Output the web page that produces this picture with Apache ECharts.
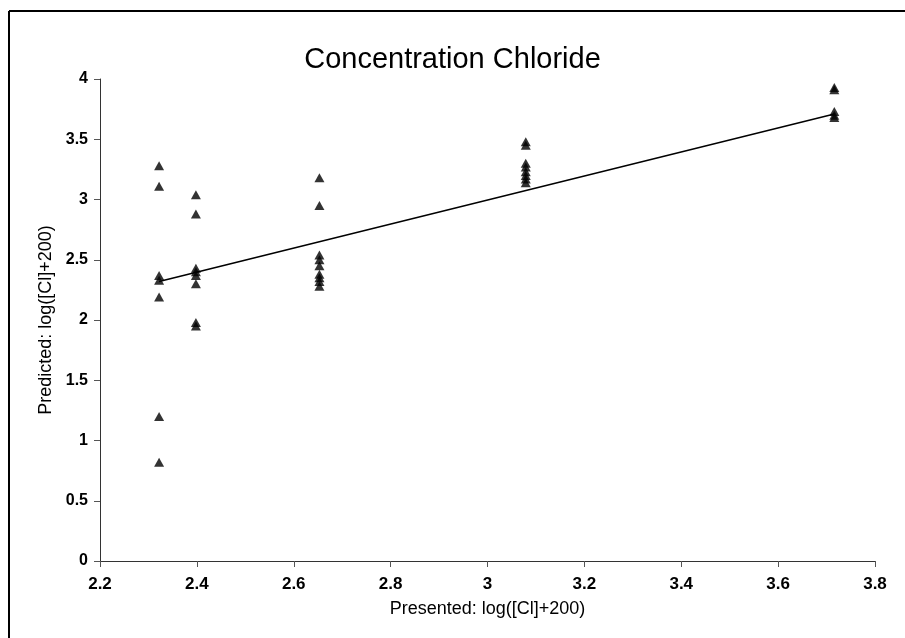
<!DOCTYPE html>
<html>
<head>
<meta charset="utf-8">
<script src="https://cdn.jsdelivr.net/npm/echarts@6/dist/echarts.min.js"></script>
<style>
html,body{margin:0;padding:0;background:#fff;}
#chart{width:905px;height:638px;}
</style>
</head>
<body>
<div id="chart"></div>
<script>
// Presented concentration levels (x) and predicted values (y) per group
var xLevels = [2.322, 2.398, 2.653, 3.079, 3.716];
var yGroup1 = [3.28, 3.11, 2.37, 2.33, 2.19, 1.20, 0.82];
var yGroup2 = [3.04, 2.88, 2.43, 2.40, 2.37, 2.30, 1.98, 1.95];
var yGroup3 = [3.18, 2.95, 2.54, 2.50, 2.45, 2.38, 2.35, 2.32, 2.28];
var yGroup4 = [3.48, 3.45, 3.30, 3.27, 3.23, 3.20, 3.17, 3.14];
var yGroup5 = [3.93, 3.91, 3.73, 3.70, 3.68];
// Fitted line end points
var fitX = [2.322, 3.716];
var fitY = [2.32, 3.71];
var xTicks = {min: 2.2, max: 3.8, interval: 0.2};
var yTicks = {min: 0, max: 4, interval: 0.5};

var groups = [yGroup1, yGroup2, yGroup3, yGroup4, yGroup5];
var points = [];
groups.forEach(function (g, i) {
  g.forEach(function (v) { points.push([xLevels[i], v]); });
});
var fitLine = fitX.map(function (x, i) { return [x, fitY[i]]; });

var chart = echarts.init(document.getElementById('chart'));
var FONT = '"Liberation Sans", Arial, Helvetica, sans-serif';
chart.setOption({
  backgroundColor: '#fff',
  animation: false,
  title: {
    text: 'Concentration Chloride',
    left: 'center',
    top: 40,
    textStyle: {fontFamily: FONT, fontSize: 29, fontWeight: 'normal', color: '#000'}
  },
  grid: {left: 100, right: 30, top: 79, bottom: 77, containLabel: false},
  xAxis: {
    type: 'value',
    min: xTicks.min, max: xTicks.max, interval: xTicks.interval,
    name: 'Presented: log([Cl]+200)',
    nameLocation: 'middle',
    nameGap: 39,
    nameTextStyle: {fontFamily: FONT, fontSize: 18, color: '#000'},
    axisLine: {show: true, lineStyle: {color: '#333', width: 1}},
    axisTick: {show: true, length: 6, lineStyle: {color: '#555'}},
    splitLine: {show: false},
    axisLabel: {
      fontFamily: FONT, fontSize: 17, fontWeight: 'bold', color: '#000', margin: 15,
      formatter: function (v) { return String(Math.round(v * 10) / 10); }
    }
  },
  yAxis: {
    type: 'value',
    min: yTicks.min, max: yTicks.max, interval: yTicks.interval,
    name: 'Predicted: log([Cl]+200)',
    nameLocation: 'middle',
    nameGap: 45,
    nameTextStyle: {fontFamily: FONT, fontSize: 18, color: '#000'},
    axisLine: {show: true, lineStyle: {color: '#333', width: 1}},
    axisTick: {show: true, length: 6, lineStyle: {color: '#555'}},
    splitLine: {show: false},
    axisLabel: {
      fontFamily: FONT, fontSize: 16, fontWeight: 'bold', color: '#000', margin: 12,
      formatter: function (v) { return String(v); }
    }
  },
  graphic: [
    {type: 'line', shape: {x1: 9, y1: 11, x2: 9, y2: 638}, style: {stroke: '#000', lineWidth: 2}},
    {type: 'line', shape: {x1: 9, y1: 11, x2: 905, y2: 11}, style: {stroke: '#000', lineWidth: 2}}
  ],
  series: [
    {
      type: 'line',
      data: fitLine,
      symbol: 'none',
      lineStyle: {color: '#000', width: 1.5},
      z: 2
    },
    {
      type: 'scatter',
      data: points,
      symbol: 'triangle',
      symbolSize: [10, 9],
      itemStyle: {color: '#000'},
      z: 3
    }
  ]
});
</script>
</body>
</html>
